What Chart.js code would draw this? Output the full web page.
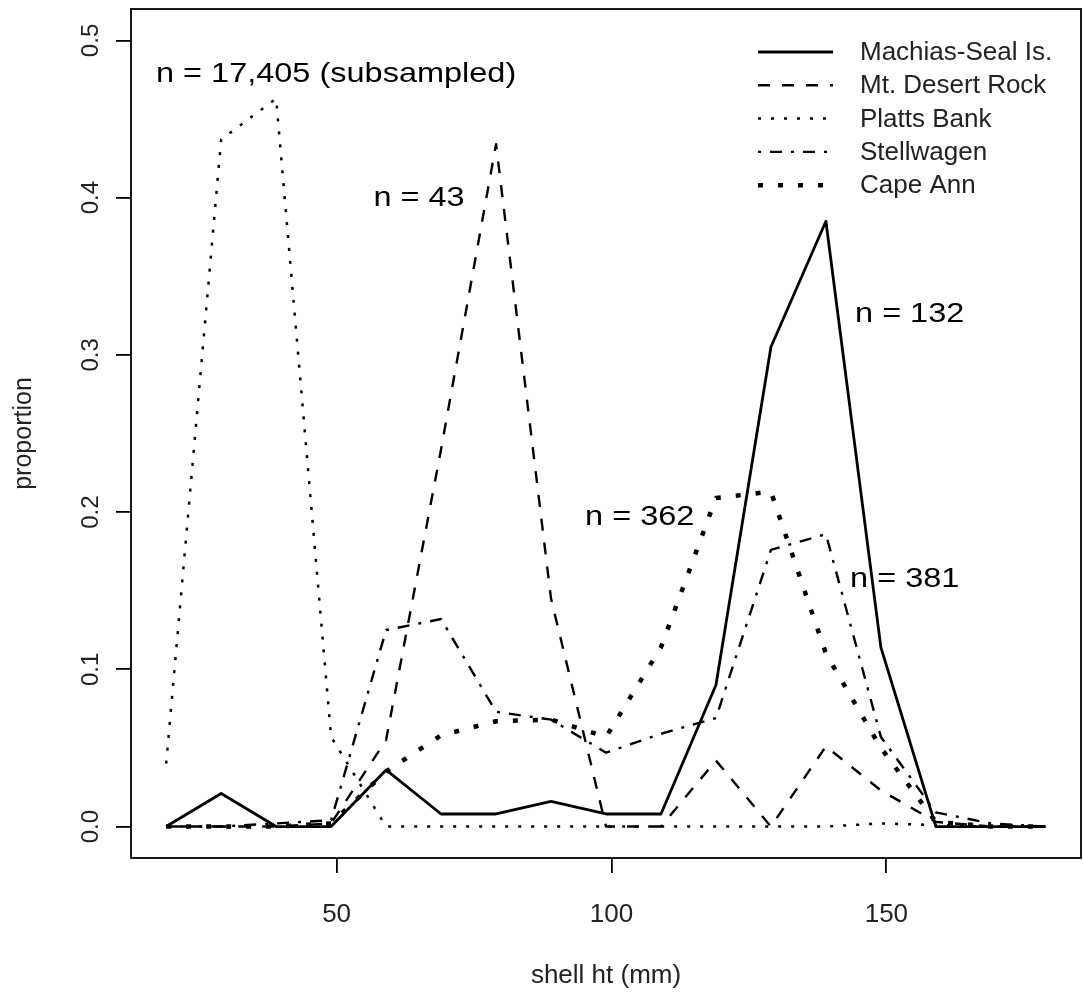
<!DOCTYPE html>
<html>
<head>
<meta charset="utf-8">
<title>Shell height by site</title>
<script src="https://cdn.jsdelivr.net/npm/chart.js@4.4.1/dist/chart.umd.min.js"></script>
<style>
  html, body { margin: 0; padding: 0; background: #fff; }
  #chart-wrap { width: 1083px; height: 994px; }
</style>
</head>
<body>
<div id="chart-wrap"><canvas id="shell-chart" width="1083" height="994"></canvas></div>
<script>
// shell height bins (mm) and proportion per bin
const shellHt = [19, 29, 39, 49, 59, 69, 79, 89, 99, 109, 119, 129, 139, 149, 159, 169, 179];
const machiasSeal = [0, 0.021, 0, 0, 0.036, 0.008, 0.008, 0.016, 0.008, 0.008, 0.090, 0.305, 0.385, 0.114, 0, 0, 0];
const mtDesertRock = [0, 0, 0, 0.002, 0.055, 0.240, 0.434, 0.145, 0, 0, 0.042, 0, 0.051, 0.023, 0.003, 0, 0];
const plattsBank = [0.040, 0.437, 0.463, 0.057, 0, 0, 0, 0, 0, 0, 0, 0, 0, 0.002, 0.001, 0, 0];
const stellwagen = [0, 0, 0.002, 0.004, 0.125, 0.132, 0.073, 0.068, 0.047, 0.059, 0.069, 0.176, 0.186, 0.057, 0.009, 0.002, 0];
const capeAnn = [0, 0, 0, 0.002, 0.035, 0.058, 0.067, 0.068, 0.057, 0.114, 0.209, 0.213, 0.110, 0.050, 0.003, 0, 0];

const seriesNames = ['Machias-Seal Is.', 'Mt. Desert Rock', 'Platts Bank', 'Stellwagen', 'Cape Ann'];
const sampleSizes = ['n = 17,405 (subsampled)', 'n = 43', 'n = 132', 'n = 362', 'n = 381'];

const xTicks = [50, 100, 150];
const xTickLabels = ['50', '100', '150'];
const yTicks = [0, 0.1, 0.2, 0.3, 0.4, 0.5];
const yTickLabels = ['0.0', '0.1', '0.2', '0.3', '0.4', '0.5'];

class ShellHeightChart {
  constructor(canvasId) {
    this.canvas = document.getElementById(canvasId);
    this.chart = null;
    this.font = '"Liberation Sans", Arial, sans-serif';
    // where each "n = ..." note sits, in data units (left edge, baseline)
    this.notePos = [
      [17.15, 0.4736],
      [56.7, 0.3947],
      [144.3, 0.3211],
      [95.2, 0.1918],
      [143.4, 0.1524]
    ];
    this.styles = [
      { borderWidth: 2.8, borderDash: [] },
      { borderWidth: 2.4, borderDash: [12, 12] },
      { borderWidth: 2.5, borderDash: [3, 10] },
      { borderWidth: 2.4, borderDash: [3, 9, 12, 9] },
      { borderWidth: 4.5, borderDash: [5, 15] }
    ];
  }

  buildDatasets() {
    const series = [machiasSeal, mtDesertRock, plattsBank, stellwagen, capeAnn];
    return series.map((values, i) => ({
      label: seriesNames[i],
      data: values.map((v, j) => ({ x: shellHt[j], y: v })),
      borderColor: '#000',
      borderWidth: this.styles[i].borderWidth,
      borderDash: this.styles[i].borderDash,
      borderCapStyle: 'butt',
      borderJoinStyle: 'round',
      pointRadius: 0,
      tension: 0,
      fill: false
    }));
  }

  decorPlugin() {
    const self = this;
    return {
      id: 'rDecor',
      afterDraw(chart) {
        self.drawBox(chart);
        self.drawAxisText(chart);
        self.drawNotes(chart);
        self.drawLegend(chart);
      }
    };
  }

  drawBox(chart) {
    const { ctx, chartArea } = chart;
    ctx.save();
    ctx.strokeStyle = '#000';
    ctx.lineWidth = 1.8;
    ctx.strokeRect(chartArea.left, chartArea.top, chartArea.right - chartArea.left, chartArea.bottom - chartArea.top);
    ctx.restore();
  }

  drawAxisText(chart) {
    const { ctx, chartArea, scales } = chart;
    ctx.save();
    ctx.fillStyle = '#222';
    ctx.textAlign = 'center';
    ctx.textBaseline = 'alphabetic';

    ctx.font = `26px ${this.font}`;
    xTicks.forEach((v, i) => {
      ctx.fillText(xTickLabels[i], scales.x.getPixelForValue(v), 922);
    });
    ctx.fillText('shell ht (mm)', (chartArea.left + chartArea.right) / 2, 983);

    ctx.font = `24px ${this.font}`;
    yTicks.forEach((v, i) => {
      ctx.save();
      ctx.translate(98, scales.y.getPixelForValue(v));
      ctx.rotate(-Math.PI / 2);
      ctx.fillText(yTickLabels[i], 0, 0);
      ctx.restore();
    });

    ctx.font = `25px ${this.font}`;
    ctx.translate(31, (chartArea.top + chartArea.bottom) / 2);
    ctx.rotate(-Math.PI / 2);
    ctx.fillText('proportion', 0, 0);
    ctx.restore();
  }

  drawNotes(chart) {
    const { ctx, scales } = chart;
    ctx.fillStyle = '#000';
    ctx.font = `28px ${this.font}`;
    sampleSizes.forEach((text, i) => {
      const [xv, yv] = this.notePos[i];
      ctx.save();
      ctx.translate(scales.x.getPixelForValue(xv), scales.y.getPixelForValue(yv));
      // the source glyphs are drawn wider than plain Arial
      ctx.scale(1.16, 1);
      ctx.textAlign = 'left';
      ctx.textBaseline = 'alphabetic';
      ctx.fillText(text, 0, 0);
      ctx.restore();
    });
  }

  drawLegend(chart) {
    const { ctx, chartArea } = chart;
    const lineStart = chartArea.right - 323;
    const lineEnd = chartArea.right - 248;
    const textLeft = chartArea.right - 221;
    const firstRow = chartArea.top + 43;
    const rowGap = 33.3;

    ctx.save();
    ctx.font = `26px ${this.font}`;
    ctx.textAlign = 'left';
    ctx.textBaseline = 'middle';
    ctx.fillStyle = '#222';
    chart.data.datasets.forEach((ds, i) => {
      const y = firstRow + i * rowGap;
      ctx.save();
      ctx.strokeStyle = '#000';
      ctx.lineWidth = ds.borderWidth;
      ctx.lineCap = 'butt';
      ctx.setLineDash(ds.borderDash);
      ctx.beginPath();
      ctx.moveTo(lineStart, y);
      ctx.lineTo(lineEnd, y);
      ctx.stroke();
      ctx.restore();
      ctx.fillText(ds.label, textLeft, y + 1);
    });
    ctx.restore();
  }

  render() {
    const axisGrid = {
      display: true,
      drawOnChartArea: false,
      drawTicks: true,
      tickLength: 15,
      color: '#000',
      tickColor: '#000',
      lineWidth: 1.8,
      tickWidth: 1.8
    };

    this.chart = new Chart(this.canvas, {
      type: 'line',
      data: { datasets: this.buildDatasets() },
      options: {
        responsive: false,
        animation: false,
        devicePixelRatio: 1,
        layout: { padding: { top: 9, right: 2, left: 0, bottom: 0 } },
        plugins: {
          legend: { display: false },
          tooltip: { enabled: false }
        },
        scales: {
          x: {
            type: 'linear',
            min: 12.6,
            max: 185.4,
            grid: axisGrid,
            border: { display: false },
            ticks: { display: false },
            afterBuildTicks: (scale) => { scale.ticks = xTicks.map(value => ({ value })); },
            afterFit: (scale) => { scale.height = 136; }
          },
          y: {
            type: 'linear',
            min: -0.02,
            max: 0.52,
            grid: axisGrid,
            border: { display: false },
            ticks: { display: false },
            afterBuildTicks: (scale) => { scale.ticks = yTicks.map(value => ({ value })); },
            afterFit: (scale) => { scale.width = 131; }
          }
        }
      },
      plugins: [this.decorPlugin()]
    });
  }
}

new ShellHeightChart('shell-chart').render();
</script>
</body>
</html>
